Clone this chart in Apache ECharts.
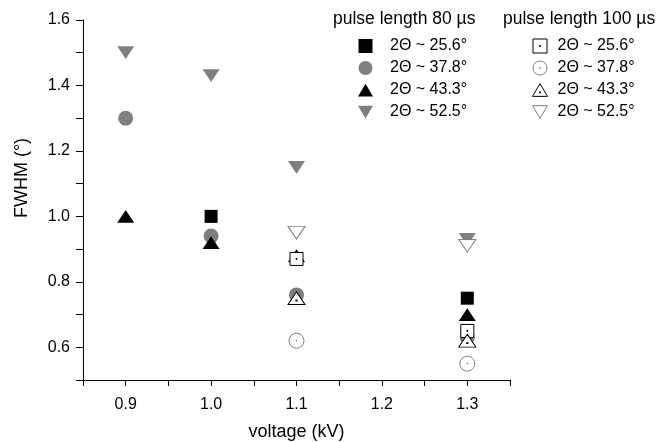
<!DOCTYPE html>
<html lang="en">
<head>
    <meta charset="utf-8" />
    <title>FWHM vs voltage</title>
    <script src="https://cdn.jsdelivr.net/npm/echarts@6/dist/echarts.min.js"></script>
    <style>
        html, body { margin: 0; padding: 0; background: #fff; }
        #main { width: 658px; height: 442px; }
    </style>
</head>
<body>
<div id="main"></div>
<script type="text/javascript">
    // x positions (kV)
    var voltages = [0.9, 1.0, 1.1, 1.3];
    // FWHM values, pulse length 80 us (filled symbols)
    var fwhmSquare80 = [null, 1.00, null, 0.75];
    var fwhmCircle80 = [1.30, 0.94, 0.76, 0.63];
    var fwhmTriUp80 = [1.00, 0.92, 0.88, 0.70];
    var fwhmTriDown80 = [1.50, 1.43, 1.15, 0.93];
    // FWHM values, pulse length 100 us (open symbols)
    var fwhmSquare100 = [null, null, 0.87, 0.65];
    var fwhmCircle100 = [null, null, 0.62, 0.55];
    var fwhmTriUp100 = [null, null, 0.75, 0.62];
    var fwhmTriDown100 = [null, null, 0.95, 0.91];

    var peakLabels = ['2\u0398 ~ 25.6\u00b0', '2\u0398 ~ 37.8\u00b0', '2\u0398 ~ 43.3\u00b0', '2\u0398 ~ 52.5\u00b0'];
    var groupTitles = ['pulse length 80 \u00b5s', 'pulse length 100 \u00b5s'];

    var FONT = '"Liberation Sans", Arial, Helvetica, sans-serif';
    var GRAY = '#7f7f7f';

    // symbols
    var SQUARE = 'path://M0,0H20V20H0Z';
    var SQUARE_DOT = 'path://M0,0H20V20H0Z M9.2,9.2H10.8V10.8H9.2Z';
    var CIRCLE_DOT = 'path://M0,10A10,10,0,1,1,20,10A10,10,0,1,1,0,10Z M9.3,10A0.7,0.7,0,1,1,10.7,10A0.7,0.7,0,1,1,9.3,10Z';
    var TRI_UP = 'path://M10,0L20,17H0Z';
    var TRI_UP_DOT = 'path://M10,0L20,17H0Z M9.3,11H10.7V12.4H9.3Z';
    var TRI_DOWN = 'path://M0,0H20L10,17Z';

    function pairs(vals) {
        var out = [];
        for (var i = 0; i < voltages.length; i++) {
            if (vals[i] !== null) out.push([voltages[i], vals[i]]);
        }
        return out;
    }

    function mk(name, vals, symbol, size, fill, stroke) {
        return {
            type: 'scatter',
            name: name,
            data: pairs(vals),
            symbol: symbol,
            symbolSize: size,
            symbolKeepAspect: true,
            itemStyle: {
                color: fill,
                borderColor: stroke || fill,
                borderWidth: stroke ? 1 : 0,
                opacity: 1
            },
            emphasis: { disabled: true }
        };
    }

    function legendCol(left, names, textGap, itemStyle) {
        return {
            orient: 'vertical',
            left: left,
            top: 38,
            padding: 0,
            itemWidth: 15,
            itemHeight: 14,
            itemGap: 6,
            selectedMode: false,
            data: names,
            itemStyle: itemStyle,
            formatter: function (name) { return peakLabels[+name.charAt(1)]; },
            textStyle: {
                fontFamily: FONT,
                fontSize: 16,
                color: '#000',
                lineHeight: 15,
                padding: [0, 0, 0, textGap]
            }
        };
    }

    var chart = echarts.init(document.getElementById('main'));
    var option = {
        animation: false,
        backgroundColor: '#fff',
        textStyle: { fontFamily: FONT },
        grid: { left: 83, right: 148, top: 20, bottom: 62, outerBoundsMode: 'none', containLabel: false },
        legend: [
            legendCol(358, ['a0', 'a1', 'a2', 'a3'], 12, {}),
            legendCol(532, ['b0', 'b1', 'b2', 'b3'], 5, { borderWidth: 1 })
        ],
        graphic: [
            { type: 'text', left: 333, top: 10, style: { text: groupTitles[0], font: '17.5px ' + FONT, fill: '#000' } },
            { type: 'text', left: 503, top: 10, style: { text: groupTitles[1], font: '17.5px ' + FONT, fill: '#000' } }
        ],
        xAxis: {
            type: 'value',
            min: 0.85,
            max: 1.35,
            interval: 0.05,
            name: 'voltage (kV)',
            nameLocation: 'middle',
            nameGap: 43,
            nameTextStyle: { fontSize: 18, color: '#000', fontFamily: FONT },
            axisLine: { lineStyle: { color: '#000', width: 1 } },
            axisTick: { length: 6, lineStyle: { color: '#000' } },
            axisLabel: {
                margin: 17,
                fontSize: 16,
                color: '#000',
                showMinLabel: true,
                showMaxLabel: true,
                formatter: function (v) {
                    return Math.round(v * 100) % 10 === 0 ? v.toFixed(1) : '';
                }
            },
            splitLine: { show: false }
        },
        yAxis: {
            type: 'value',
            min: 0.5,
            max: 1.6,
            interval: 0.1,
            name: 'FWHM (\u00b0)',
            nameLocation: 'middle',
            nameGap: 52,
            nameTextStyle: { fontSize: 18, color: '#000', fontFamily: FONT, padding: [0, 0, 0, 44] },
            axisLine: { show: true, lineStyle: { color: '#000', width: 1 } },
            axisTick: { show: true, length: 7, lineStyle: { color: '#000' } },
            axisLabel: {
                margin: 13,
                fontSize: 16,
                color: '#000',
                formatter: function (v) {
                    return Math.round(v * 10) % 2 === 0 ? v.toFixed(1) : '';
                }
            },
            splitLine: { show: false }
        },
        series: [
            mk('a0', fwhmSquare80, SQUARE, 13, '#000'),
            mk('a1', fwhmCircle80, 'circle', 15, GRAY),
            mk('a2', fwhmTriUp80, TRI_UP, [17, 15], '#000'),
            mk('a3', fwhmTriDown80, TRI_DOWN, [17, 15], GRAY),
            mk('b0', fwhmSquare100, SQUARE_DOT, 13, '#fff', '#000'),
            mk('b1', fwhmCircle100, CIRCLE_DOT, 15, '#fff', GRAY),
            mk('b2', fwhmTriUp100, TRI_UP_DOT, [17, 15], '#fff', '#000'),
            mk('b3', fwhmTriDown100, TRI_DOWN, [17, 15], '#fff', GRAY)
        ]
    };
    chart.setOption(option);
</script>
</body>
</html>
